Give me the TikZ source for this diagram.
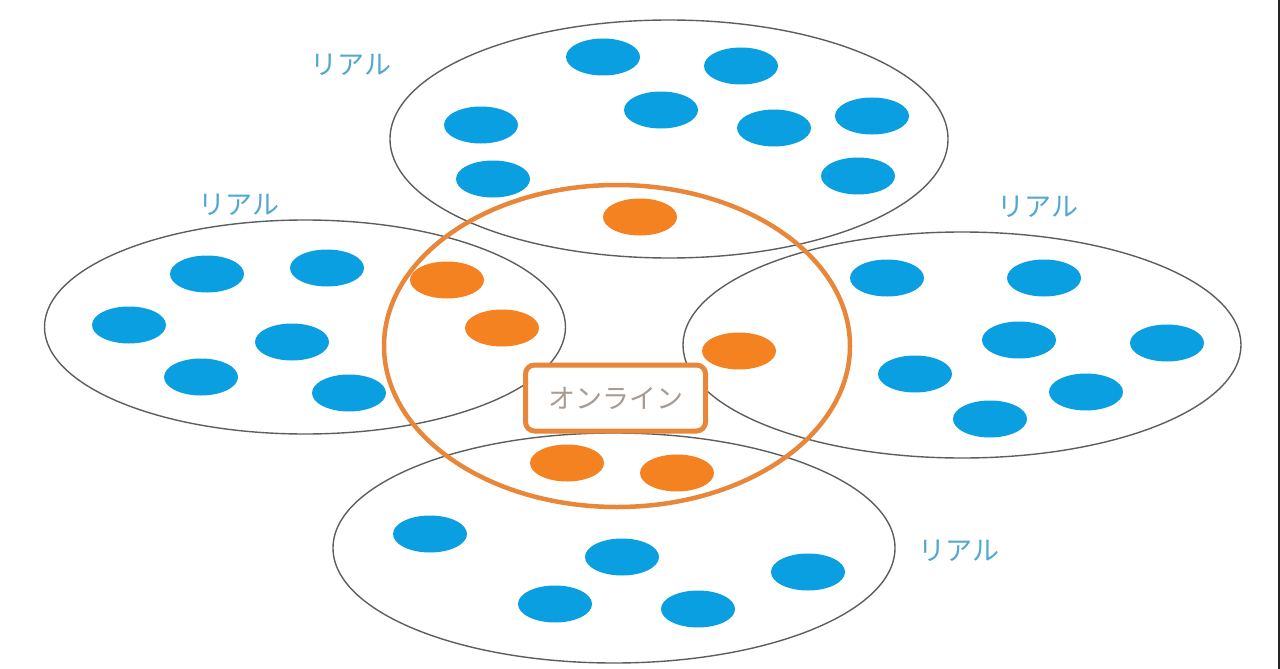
\documentclass[tikz,border=0pt]{standalone}
\usepackage{fontspec}
\newfontfamily\jp{Noto Sans CJK JP}
\usetikzlibrary{shapes.geometric}
\definecolor{grpline}{HTML}{5E5E5E}
\definecolor{onl}{HTML}{E8873A}
\definecolor{odot}{HTML}{F58220}
\definecolor{bdot}{HTML}{0A9FE0}
\definecolor{lbl}{HTML}{52A9D0}
\definecolor{onltext}{HTML}{A89C92}
\begin{document}
\begin{tikzpicture}[x=1pt,y=-1pt,
  group/.style={ellipse, draw=grpline, line width=1.4pt, inner sep=0pt},
  bluedot/.style={ellipse, fill=bdot, inner sep=0pt, minimum width=74pt, minimum height=37pt},
  orangedot/.style={ellipse, fill=odot, inner sep=0pt, minimum width=74pt, minimum height=37pt},
  real/.style={text=lbl, font=\jp\fontsize{27}{30}\selectfont, inner sep=0pt},
]
\useasboundingbox (0,0) rectangle (1280,669);
\fill[white] (0,0) rectangle (1280,669);
\draw[line width=1.5pt, black!85] (1279.2,0) -- (1279.2,669);

% groups
\node[group, minimum width=558pt, minimum height=238pt] (gtop) at (669,139) {};
\node[group, minimum width=521pt, minimum height=214pt] (gleft) at (305,327) {};
\node[group, minimum width=558pt, minimum height=226pt] (gright) at (962,345) {};
\node[group, minimum width=562pt, minimum height=230pt] (gbottom) at (614,548) {};

% online circle
\node[ellipse, draw=onl, line width=4.5pt, inner sep=0pt, minimum width=466pt, minimum height=322pt] (online) at (617,346) {};

% labels
\node[real] (ltop) at (351,65) {リアル};
\node[real] (lleft) at (239,205) {リアル};
\node[real] (lright) at (1038,207) {リアル};
\node[real] (lbottom) at (959,551) {リアル};

% top blue dots
\node[bluedot] (t1) at (603,57) {};
\node[bluedot] (t2) at (741,66) {};
\node[bluedot] (t3) at (661,110) {};
\node[bluedot] (t4) at (481,125) {};
\node[bluedot] (t5) at (774,128) {};
\node[bluedot] (t6) at (872,116) {};
\node[bluedot] (t7) at (493,179) {};
\node[bluedot] (t8) at (858,176) {};

% left blue dots
\node[bluedot] (l1) at (207,274) {};
\node[bluedot] (l2) at (327,268) {};
\node[bluedot] (l3) at (129,325) {};
\node[bluedot] (l4) at (292,342) {};
\node[bluedot] (l5) at (201,377) {};
\node[bluedot] (l6) at (349,393) {};

% right blue dots
\node[bluedot] (r1) at (887,278) {};
\node[bluedot] (r2) at (1044,278) {};
\node[bluedot] (r3) at (1019,340) {};
\node[bluedot] (r4) at (1167,343) {};
\node[bluedot] (r5) at (915,374) {};
\node[bluedot] (r6) at (1086,392) {};
\node[bluedot] (r7) at (990,419) {};

% bottom blue dots
\node[bluedot] (b1) at (430,534) {};
\node[bluedot] (b2) at (622,557) {};
\node[bluedot] (b3) at (808,572) {};
\node[bluedot] (b4) at (555,604) {};
\node[bluedot] (b5) at (698,609) {};

% orange dots
\node[orangedot] (o1) at (640,217) {};
\node[orangedot] (o2) at (447,280) {};
\node[orangedot] (o3) at (502,328) {};
\node[orangedot] (o4) at (739,351) {};
\node[orangedot] (o5) at (567,463) {};
\node[orangedot] (o6) at (677,473) {};

% online box
\node[draw=onl, fill=white, line width=5pt, rounded corners=9pt, inner sep=0pt,
      minimum width=180pt, minimum height=66pt,
      text=onltext, font=\jp\fontsize{27}{30}\selectfont] (box) at (615.5,398) {オンライン};
\end{tikzpicture}
\end{document}
